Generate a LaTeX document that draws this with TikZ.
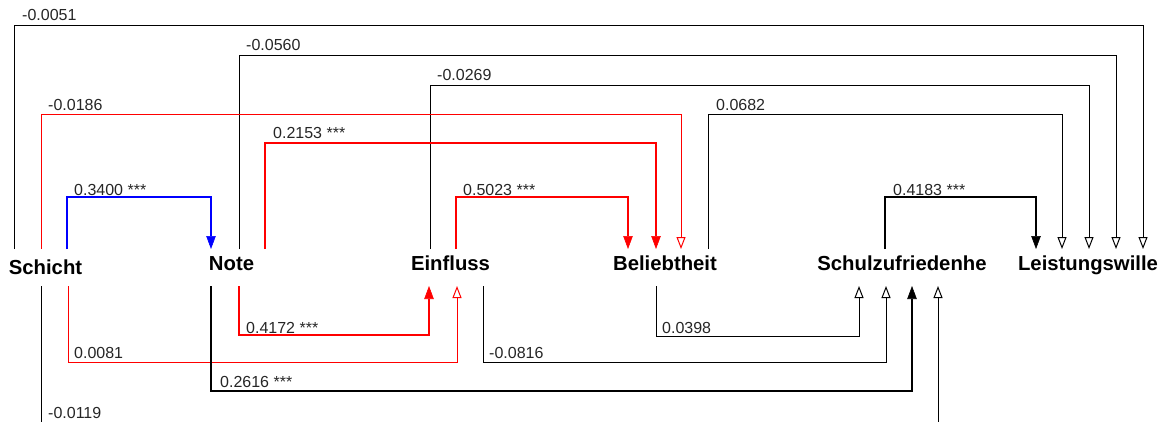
\documentclass[tikz,border=0pt]{standalone}
\usepackage{fontspec}
\setmainfont{Liberation Sans}
\usetikzlibrary{arrows.meta}

\tikzset{
  var/.style={font=\fontsize{20.3}{20}\selectfont\bfseries, inner sep=0pt, anchor=base},
  lbl/.style={font=\fontsize{16}{16}\selectfont, inner sep=0pt, anchor=base west, text=black!85},
  weak/.style={line width=1pt},
  strong/.style={line width=2.8pt},
  fillhead/.style={-{Triangle[length=13pt,width=9.5pt,line width=0.6pt]}},
  openhead/.style={-{Triangle[open,length=12pt,width=9pt,line width=1pt]}},
}

\begin{document}
\begin{tikzpicture}[x=1pt,y=-1pt]
\useasboundingbox (0,0) rectangle (1166,421);

% variables
\node[var] (schicht) at (45.5,274) {Schicht};
\node[var] (note)    at (231.5,270) {Note};
\node[var] (einfl)   at (450.5,270) {Einfluss};
\node[var] (beliebt) at (665,270) {Beliebtheit};
\node[var] (schulz)  at (902,270) {Schulzufriedenhe};
\node[var] (leist)   at (1088,270) {Leistungswille};

% ports above the variables (y = 249)
\coordinate (schT1) at (14,249);
\coordinate (schT2) at (41,249);
\coordinate (schT3) at (67,249);
\coordinate (noteT1) at (211,249);
\coordinate (noteT2) at (239,249);
\coordinate (noteT3) at (265,249);
\coordinate (einT1) at (430,249);
\coordinate (einT2) at (456,249);
\coordinate (belT1) at (628,249);
\coordinate (belT2) at (656,249);
\coordinate (belT3) at (681,249);
\coordinate (belT4) at (708,249);
\coordinate (schuT1) at (885,249);
\coordinate (leiT1) at (1036,249);
\coordinate (leiT2) at (1062,249);
\coordinate (leiT3) at (1089,249);
\coordinate (leiT4) at (1116,249);
\coordinate (leiT5) at (1143,249);

% ports below the variables (y = 286)
\coordinate (schB1) at (41,286);
\coordinate (schB2) at (68,286);
\coordinate (noteB1) at (211,286);
\coordinate (noteB2) at (239,286);
\coordinate (einB1) at (429,286);
\coordinate (einB2) at (457,286);
\coordinate (einB3) at (483,286);
\coordinate (belB1) at (656,286);
\coordinate (schuB1) at (859,286);
\coordinate (schuB2) at (886,286);
\coordinate (schuB3) at (912,286);
\coordinate (schuB4) at (938,286);

\begin{scope}
\clip (0,0) rectangle (1166,421);

% paths running above
\draw[weak, openhead] (schT1) -- (schT1 |- 0,25) -| (leiT5);
\node[lbl] (l1) at (22,20.5) {-0.0051};
\draw[weak, openhead] (noteT2) -- (noteT2 |- 0,55) -| (leiT4);
\node[lbl] (l2) at (246,50.5) {-0.0560};
\draw[weak, openhead] (einT1) -- (einT1 |- 0,85) -| (leiT3);
\node[lbl] (l3) at (437,80.5) {-0.0269};
\draw[weak, red, openhead] (schT2) -- (schT2 |- 0,114) -| (belT3);
\node[lbl] (l4) at (48,110) {-0.0186};
\draw[weak, openhead] (belT4) -- (belT4 |- 0,114) -| (leiT2);
\node[lbl] (l5) at (716,110) {0.0682};
\draw[strong, red, fillhead] (noteT3) -- (noteT3 |- 0,143) -| (belT2);
\node[lbl] (l6) at (273,138.5) {0.2153 ***};
\draw[strong, blue, fillhead] (schT3) -- (schT3 |- 0,197) -| (noteT1);
\node[lbl] (l7) at (74,195) {0.3400 ***};
\draw[strong, red, fillhead] (einT2) -- (einT2 |- 0,197) -| (belT1);
\node[lbl] (l8) at (463,195) {0.5023 ***};
\draw[strong, fillhead] (schuT1) -- (schuT1 |- 0,197) -| (leiT1);
\node[lbl] (l9) at (893,195) {0.4183 ***};

% paths running below
\draw[strong, red, fillhead] (noteB2) -- (noteB2 |- 0,335) -| (einB1);
\node[lbl] (l10) at (246,333) {0.4172 ***};
\draw[weak, red, openhead] (schB2) -- (schB2 |- 0,362) -| (einB2);
\node[lbl] (l11) at (74,358) {0.0081};
\draw[strong, fillhead] (noteB1) -- (noteB1 |- 0,391) -| (schuB3);
\node[lbl] (l12) at (220,387) {0.2616 ***};
\draw[weak, openhead] (schB1) -- (schB1 |- 0,423) -| (schuB4);
\node[lbl] (l13) at (48,418) {-0.0119};
\draw[weak, openhead] (einB3) -- (einB3 |- 0,362) -| (schuB2);
\node[lbl] (l14) at (489,358) {-0.0816};
\draw[weak, openhead] (belB1) -- (belB1 |- 0,336) -| (schuB1);
\node[lbl] (l15) at (662,333) {0.0398};
\end{scope}
\end{tikzpicture}
\end{document}
